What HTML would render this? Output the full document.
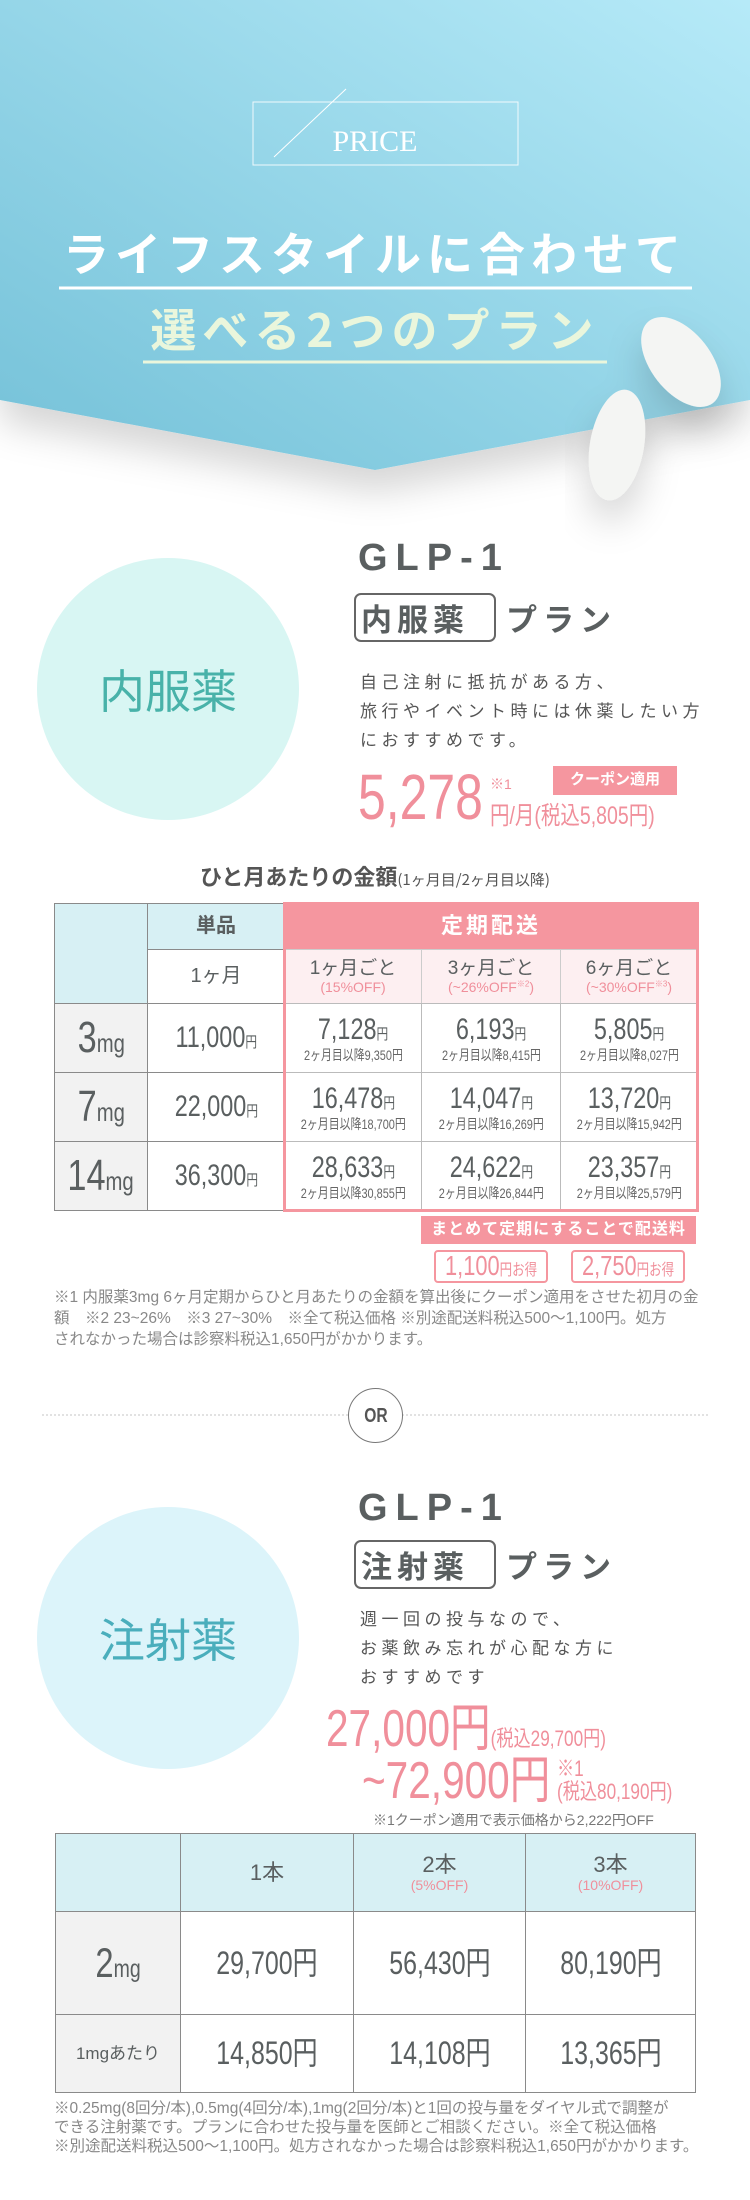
<!DOCTYPE html>
<html><head><meta charset="utf-8">
<style>
*{margin:0;padding:0;box-sizing:border-box}
body{width:750px;height:2200px;position:relative;background:#fff;overflow:hidden;font-family:"Liberation Sans","Noto Sans CJK JP",sans-serif;color:#5a5f60}
.a{position:absolute}
.n{display:inline-block;transform:scaleX(.78);transform-origin:center;white-space:nowrap}
.nl{display:inline-block;transform:scaleX(.78);transform-origin:left;white-space:nowrap}
.c{display:flex;flex-direction:column;align-items:center;justify-content:center;text-align:center;line-height:1.1}
.cell{position:absolute;border:1px solid #8a8a8a;display:flex;flex-direction:column;align-items:center;justify-content:center;text-align:center;line-height:1.15}
.pk{color:#f08f9b}
.y{font-size:15px}
.pr{font-size:30px}
.sub{font-size:14px;color:#666}
</style></head><body>

<svg class="a" style="left:0;top:0" width="750" height="580">
<defs>
<linearGradient id="g" x1="0" y1="1" x2="1" y2="0">
<stop offset="0" stop-color="#74c1d8"/><stop offset="1" stop-color="#b6eaf8"/>
</linearGradient>
<filter id="sh" x="-10%" y="-10%" width="120%" height="140%"><feDropShadow dx="0" dy="22" stdDeviation="18" flood-color="#000" flood-opacity="0.16"/></filter>
</defs>
<polygon points="0,0 750,0 750,400 375,470 0,400" fill="url(#g)" filter="url(#sh)"/>
<rect x="253" y="102" width="265" height="63" fill="none" stroke="#ffffff" stroke-opacity="0.85" stroke-width="1"/>
<line x1="274" y1="157" x2="346" y2="89" stroke="#fff" stroke-width="1"/>
<text x="375" y="151" text-anchor="middle" font-family="Liberation Serif, serif" font-size="30" fill="#fff">PRICE</text>
<line x1="59" y1="288" x2="692" y2="288" stroke="#fff" stroke-width="3"/>
<line x1="143" y1="362" x2="607" y2="362" stroke="#eaf6dc" stroke-width="3"/>
<g filter="url(#sh)">
<ellipse cx="681" cy="362" rx="52" ry="30" transform="rotate(52 681 362)" fill="#f4f5f3"/>
<ellipse cx="617" cy="445" rx="56" ry="27" transform="rotate(100 617 445)" fill="#f4f5f3"/>
</g>
</svg>
<div class="a" style="left:0;width:750px;top:222px;text-align:center;font-size:46px;font-weight:bold;color:#fff;letter-spacing:6px;font-family:'Noto Sans CJK JP',sans-serif;line-height:60px">ライフスタイルに合わせて</div>
<div class="a" style="left:0;width:750px;top:298px;text-align:center;font-size:46px;font-weight:bold;color:#eaf6dc;letter-spacing:6px;font-family:'Noto Sans CJK JP',sans-serif;line-height:60px">選べる2つのプラン</div>

<!-- Section 1 -->
<div class="a c" style="left:37px;top:558px;width:262px;height:262px;border-radius:50%;background:#d8f6f3;color:#48b2a9;font-size:46px;font-family:'Noto Sans CJK JP',sans-serif">内服薬</div>
<div class="a" style="left:358px;top:533px;font-size:38px;letter-spacing:8px;color:#5a5f60;font-weight:bold;line-height:50px">GLP-1</div>
<div class="a" style="left:354px;top:593px;height:49px;display:flex;align-items:center;font-size:31px;font-weight:bold;color:#5a5f60;font-family:'Noto Sans CJK JP',sans-serif"><span style="border:2px solid #666;border-radius:7px;padding:0 5px;height:49px;line-height:45px;letter-spacing:5px;width:142px">内服薬</span><span style="margin-left:10px;letter-spacing:6px">プラン</span></div>
<div class="a" style="left:360px;top:668px;font-size:17px;line-height:29px;letter-spacing:4.5px;color:#555">自己注射に抵抗がある方、<br>旅行やイベント時には休薬したい方<br>におすすめです。</div>
<div class="a pk nl" style="left:358px;top:762px;font-size:64px;line-height:70px">5,278</div>
<div class="a pk nl" style="left:490px;top:802px;font-size:25px;line-height:28px">円/月(税込5,805円)</div>
<div class="a pk" style="left:490px;top:774px;font-size:14px">※1</div>
<div class="a c" style="left:553px;top:766px;width:124px;height:29px;background:#f5969f;color:#fff;font-size:15px;font-weight:bold">クーポン適用</div>

<div class="a" style="left:0;width:750px;top:860px;text-align:center;font-size:22px;font-weight:bold;color:#555;font-family:'Noto Sans CJK JP',sans-serif">ひと月あたりの金額<span style="font-size:15px;font-weight:normal">(1ヶ月目/2ヶ月目以降)</span></div>

<div>
<div class="cell" style="left:54px;top:903px;width:94px;height:101px;background:#d7f0f4"></div>
<div class="cell" style="left:147px;top:903px;width:138px;height:47px;background:#d7f0f4;font-size:20px;font-weight:bold">単品</div>
<div class="cell" style="left:147px;top:949px;width:138px;height:55px;font-size:20px">1ヶ月</div>
<div class="cell" style="left:147px;top:1003px;width:138px;height:70px"><span class="n pr">11,000<span class="y">円</span></span></div>
<div class="cell" style="left:147px;top:1072px;width:138px;height:70px"><span class="n pr">22,000<span class="y">円</span></span></div>
<div class="cell" style="left:147px;top:1141px;width:138px;height:70px"><span class="n pr">36,300<span class="y">円</span></span></div>
<div class="cell" style="left:54px;top:1003px;width:94px;height:70px;background:#f2f2f2"><span class="n"><span style="font-size:44px">3</span><span style="font-size:26px">mg</span></span></div>
<div class="cell" style="left:54px;top:1072px;width:94px;height:70px;background:#f2f2f2"><span class="n"><span style="font-size:44px">7</span><span style="font-size:26px">mg</span></span></div>
<div class="cell" style="left:54px;top:1141px;width:94px;height:70px;background:#f2f2f2"><span class="n"><span style="font-size:44px">14</span><span style="font-size:26px">mg</span></span></div>
<div class="a c" style="left:284px;top:902px;width:414px;height:48px;background:#f5969f;color:#fff;font-size:22px;font-weight:bold;letter-spacing:3px">定期配送</div>
<div class="cell" style="left:284px;top:949px;width:138px;height:55px;background:#fdeff1;border-color:#ccc;font-size:19px">1ヶ月ごと<span class="pk" style="font-size:14px">(15%OFF)</span></div>
<div class="cell" style="left:421px;top:949px;width:140px;height:55px;background:#fdeff1;border-color:#ccc;font-size:19px">3ヶ月ごと<span class="pk" style="font-size:14px">(~26%OFF<sup style="font-size:8px">※2</sup>)</span></div>
<div class="cell" style="left:560px;top:949px;width:138px;height:55px;background:#fdeff1;border-color:#ccc;font-size:19px">6ヶ月ごと<span class="pk" style="font-size:14px">(~30%OFF<sup style="font-size:8px">※3</sup>)</span></div>
<div class="cell" style="left:284px;top:1003px;width:138px;height:70px;border-color:#bbb"><span class="n pr">7,128<span class="y">円</span></span><span class="n sub">2ヶ月目以降9,350円</span></div>
<div class="cell" style="left:421px;top:1003px;width:140px;height:70px;border-color:#bbb"><span class="n pr">6,193<span class="y">円</span></span><span class="n sub">2ヶ月目以降8,415円</span></div>
<div class="cell" style="left:560px;top:1003px;width:138px;height:70px;border-color:#bbb"><span class="n pr">5,805<span class="y">円</span></span><span class="n sub">2ヶ月目以降8,027円</span></div>
<div class="cell" style="left:284px;top:1072px;width:138px;height:70px;border-color:#bbb"><span class="n pr">16,478<span class="y">円</span></span><span class="n sub">2ヶ月目以降18,700円</span></div>
<div class="cell" style="left:421px;top:1072px;width:140px;height:70px;border-color:#bbb"><span class="n pr">14,047<span class="y">円</span></span><span class="n sub">2ヶ月目以降16,269円</span></div>
<div class="cell" style="left:560px;top:1072px;width:138px;height:70px;border-color:#bbb"><span class="n pr">13,720<span class="y">円</span></span><span class="n sub">2ヶ月目以降15,942円</span></div>
<div class="cell" style="left:284px;top:1141px;width:138px;height:70px;border-color:#bbb"><span class="n pr">28,633<span class="y">円</span></span><span class="n sub">2ヶ月目以降30,855円</span></div>
<div class="cell" style="left:421px;top:1141px;width:140px;height:70px;border-color:#bbb"><span class="n pr">24,622<span class="y">円</span></span><span class="n sub">2ヶ月目以降26,844円</span></div>
<div class="cell" style="left:560px;top:1141px;width:138px;height:70px;border-color:#bbb"><span class="n pr">23,357<span class="y">円</span></span><span class="n sub">2ヶ月目以降25,579円</span></div>
<div class="a" style="left:283px;top:902px;width:416px;height:310px;border:3px solid #f5969f"></div>
</div>

<div class="a c" style="left:421px;top:1216px;width:275px;height:28px;background:#f5969f;color:#fff;font-size:16px;font-weight:bold;letter-spacing:1px">まとめて定期にすることで配送料</div>
<div class="a c pk" style="left:434px;top:1250px;width:114px;height:33px;border:2px solid #f5969f;border-radius:4px"><span class="n"><span style="font-size:28px">1,100</span><span style="font-size:16px">円お得</span></span></div>
<div class="a c pk" style="left:571px;top:1250px;width:114px;height:33px;border:2px solid #f5969f;border-radius:4px"><span class="n"><span style="font-size:28px">2,750</span><span style="font-size:16px">円お得</span></span></div>

<div class="a" style="left:54px;top:1287px;width:680px;font-size:15.5px;line-height:21px;color:#888;white-space:nowrap">※1 内服薬3mg 6ヶ月定期からひと月あたりの金額を算出後にクーポン適用をさせた初月の金<br>額　※2 23~26%　※3 27~30%　※全て税込価格 ※別途配送料税込500～1,100円。処方<br>されなかった場合は診察料税込1,650円がかかります。</div>

<!-- OR divider -->
<div class="a" style="left:42px;top:1414px;width:666px;border-top:2px dotted #e2e2e2"></div>
<div class="a c" style="left:348px;top:1388px;width:55px;height:55px;border-radius:50%;border:1.5px solid #777;background:#fff;font-size:20px;font-weight:bold;color:#555"><span class="n">OR</span></div>

<!-- Section 2 -->
<div class="a c" style="left:37px;top:1507px;width:262px;height:262px;border-radius:50%;background:#dcf4fa;color:#4aaebc;font-size:46px;font-family:'Noto Sans CJK JP',sans-serif">注射薬</div>
<div class="a" style="left:358px;top:1483px;font-size:38px;letter-spacing:8px;color:#5a5f60;font-weight:bold;line-height:50px">GLP-1</div>
<div class="a" style="left:354px;top:1540px;height:49px;display:flex;align-items:center;font-size:31px;font-weight:bold;color:#5a5f60;font-family:'Noto Sans CJK JP',sans-serif"><span style="border:2px solid #666;border-radius:7px;padding:0 5px;height:49px;line-height:45px;letter-spacing:5px;width:142px">注射薬</span><span style="margin-left:10px;letter-spacing:6px">プラン</span></div>
<div class="a" style="left:360px;top:1605px;font-size:17px;line-height:29px;letter-spacing:4.5px;color:#555">週一回の投与なので、<br>お薬飲み忘れが心配な方に<br>おすすめです</div>
<div class="a pk nl" style="left:326px;top:1700px;font-size:52px;line-height:58px">27,000円<span style="font-size:22px">(税込29,700円)</span></div>
<div class="a pk nl" style="left:362px;top:1752px;font-size:52px;line-height:58px">~72,900円</div>
<div class="a pk nl" style="left:557px;top:1757px;font-size:22px;line-height:23px">※1<br>(税込80,190円)</div>
<div class="a" style="left:373px;top:1810px;font-size:14px;color:#777">※1クーポン適用で表示価格から2,222円OFF</div>

<div>
<div class="cell" style="left:55px;top:1833px;width:126px;height:79px;background:#d7f0f4"></div>
<div class="cell" style="left:180px;top:1833px;width:174px;height:79px;background:#d7f0f4;font-size:22px">1本</div>
<div class="cell" style="left:353px;top:1833px;width:173px;height:79px;background:#d7f0f4;font-size:22px">2本<span class="pk" style="font-size:14px">(5%OFF)</span></div>
<div class="cell" style="left:525px;top:1833px;width:171px;height:79px;background:#d7f0f4;font-size:22px">3本<span class="pk" style="font-size:14px">(10%OFF)</span></div>
<div class="cell" style="left:55px;top:1911px;width:126px;height:104px;background:#f2f2f2"><span class="n"><span style="font-size:42px">2</span><span style="font-size:25px">mg</span></span></div>
<div class="cell" style="left:180px;top:1911px;width:174px;height:104px"><span class="n" style="font-size:32px">29,700円</span></div>
<div class="cell" style="left:353px;top:1911px;width:173px;height:104px"><span class="n" style="font-size:32px">56,430円</span></div>
<div class="cell" style="left:525px;top:1911px;width:171px;height:104px"><span class="n" style="font-size:32px">80,190円</span></div>
<div class="cell" style="left:55px;top:2014px;width:126px;height:79px;background:#f2f2f2;font-size:17px">1mgあたり</div>
<div class="cell" style="left:180px;top:2014px;width:174px;height:79px"><span class="n" style="font-size:32px">14,850円</span></div>
<div class="cell" style="left:353px;top:2014px;width:173px;height:79px"><span class="n" style="font-size:32px">14,108円</span></div>
<div class="cell" style="left:525px;top:2014px;width:171px;height:79px"><span class="n" style="font-size:32px">13,365円</span></div>
</div>

<div class="a" style="left:54px;top:2099px;width:690px;font-size:15.5px;line-height:19px;color:#888;white-space:nowrap">※0.25mg(8回分/本),0.5mg(4回分/本),1mg(2回分/本)と1回の投与量をダイヤル式で調整が<br>できる注射薬です。プランに合わせた投与量を医師とご相談ください。※全て税込価格<br>※別途配送料税込500～1,100円。処方されなかった場合は診察料税込1,650円がかかります。</div>
</body></html>
